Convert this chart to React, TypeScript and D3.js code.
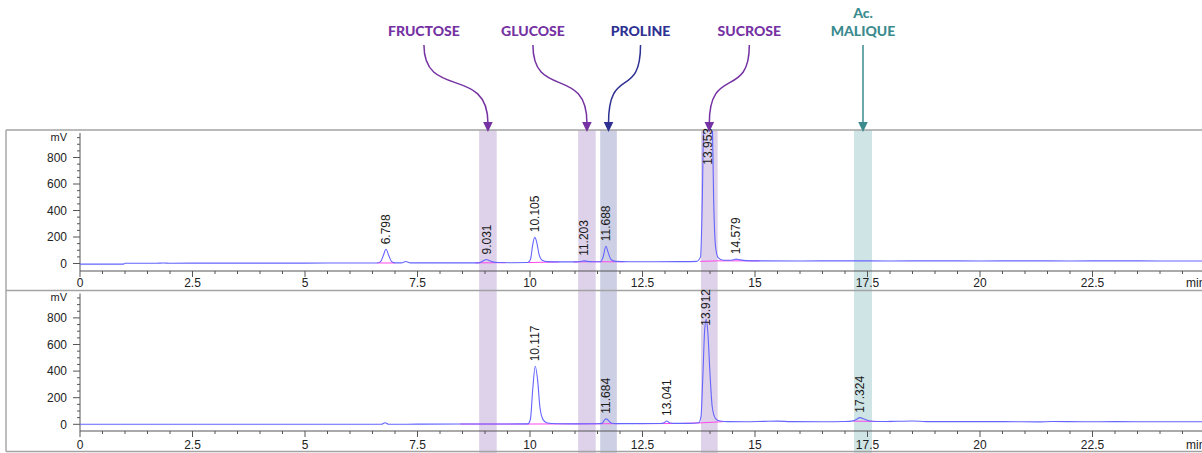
import React from 'react';
import * as d3 from 'd3';

type Pt = [number, number];

const X_TICK_VALUES = [0, 2.5, 5, 7.5, 10, 12.5, 15, 17.5, 20, 22.5];
const X_UNIT = 'min';
const Y_TICK_VALUES = [0, 200, 400, 600, 800];
const Y_UNIT = 'mV';

// Chromatogram 1 (top): [time (min), signal (mV)]
const TRACE_TOP: Pt[] = [
  [0, -5], [0.96, -5], [1.0, 2], [1.7, 2], [1.85, 4], [2.0, 2], [3.0, 3], [4.0, 3], [5.0, 3], [6.0, 4],
  [6.6, 4], [6.68, 14], [6.74, 60], [6.8, 107], [6.86, 62], [6.92, 16], [7.0, 5],
  [7.14, 5], [7.24, 15], [7.34, 5], [8.0, 5],
  [8.85, 5], [8.93, 14], [8.98, 24], [9.03, 30], [9.09, 23], [9.17, 12], [9.3, 7], [9.6, 6],
  [9.95, 7], [10.01, 30], [10.06, 140], [10.105, 198], [10.15, 160], [10.2, 70], [10.27, 25], [10.38, 14], [10.7, 12],
  [11.05, 12], [11.13, 15], [11.2, 20], [11.27, 16], [11.4, 13],
  [11.57, 13], [11.62, 45], [11.688, 130], [11.74, 80], [11.8, 30], [11.9, 16], [12.2, 13], [12.8, 13], [13.3, 14],
  [13.7, 16], [13.79, 50], [13.83, 500], [13.87, 1300], [13.955, 1700], [14.04, 1300], [14.08, 500], [14.12, 140], [14.18, 45],
  [14.3, 24], [14.45, 24], [14.52, 28], [14.58, 33], [14.66, 28], [14.8, 22], [15.1, 20],
  [16, 19], [17, 20], [18, 19], [19, 20], [20, 19], [21, 20], [22, 19], [23, 20], [24, 19], [25, 19],
];

// Chromatogram 2 (bottom)
const TRACE_BOTTOM: Pt[] = [
  [0, 0], [3, 0], [6.0, 0], [6.7, 0], [6.78, 12], [6.86, 0], [7.5, 1], [8.5, 2], [9.5, 2],
  [9.95, 3], [10.01, 40], [10.06, 260], [10.117, 436], [10.17, 330], [10.22, 130], [10.29, 35], [10.38, 10], [10.6, 4],
  [11.0, 3], [11.5, 4], [11.6, 7], [11.65, 30], [11.69, 42], [11.74, 30], [11.8, 10], [11.9, 5], [12.3, 5],
  [12.9, 6], [12.98, 12], [13.04, 25], [13.1, 12], [13.2, 7], [13.5, 7],
  [13.75, 12], [13.8, 60], [13.84, 350], [13.88, 700], [13.915, 790], [13.95, 700], [14.0, 380], [14.05, 130], [14.12, 45], [14.22, 25],
  [14.4, 20], [14.8, 19], [15.2, 22], [15.5, 24], [15.8, 20], [16.5, 19], [17.0, 21],
  [17.18, 26], [17.26, 38], [17.33, 50], [17.42, 40], [17.55, 25], [17.8, 21],
  [18.0, 22], [18.5, 25], [18.8, 20], [19.5, 20], [20.5, 20], [21.3, 18], [21.6, 21], [22.3, 19], [23.0, 20], [24.0, 19], [25, 19],
];

const PEAKS_TOP = ['6.798', '9.031', '10.105', '11.203', '11.688', '13.953', '14.579'];
const PEAKS_BOTTOM = ['10.117', '11.684', '13.041', '13.912', '17.324'];

// integration baselines: [t0, v0, t1, v1]
const INTEG_TOP: [number, number, number, number][] = [
  [6.6, 4, 7.0, 4], [8.78, 5, 9.45, 6], [9.96, 7, 10.65, 12], [10.96, 12, 11.33, 13],
  [11.33, 13, 12.07, 13], [13.78, 16, 14.18, 20], [14.18, 20, 15.1, 20],
];
const INTEG_BOTTOM: [number, number, number, number][] = [
  [8.45, 2, 9.9, 2], [9.9, 2, 10.9, 3], [10.9, 3, 11.55, 4], [11.55, 4, 12.0, 5],
  [12.4, 5, 13.3, 6], [13.3, 6, 13.75, 10], [13.75, 10, 14.3, 20], [17.18, 24, 18.04, 20],
];

const BANDS = [
  { name: 'FRUCTOSE', lines: ['FRUCTOSE'], from: 8.87, to: 9.26 },
  { name: 'GLUCOSE', lines: ['GLUCOSE'], from: 11.07, to: 11.46 },
  { name: 'PROLINE', lines: ['PROLINE'], from: 11.56, to: 11.93 },
  { name: 'SUCROSE', lines: ['SUCROSE'], from: 13.8, to: 14.17 },
  { name: 'MALIQUE', lines: ['Ac.', 'MALIQUE'], from: 17.2, to: 17.6 },
];

const BAND_STYLE: Record<string, { fill: string; ink: string; dx: number }> = {
  FRUCTOSE: { fill: '#ddd2e9', ink: '#7532a3', dx: -64 },
  GLUCOSE: { fill: '#ddd2e9', ink: '#7532a3', dx: -54 },
  PROLINE: { fill: '#cdd0e4', ink: '#2e3192', dx: 32 },
  SUCROSE: { fill: '#ddd2e9', ink: '#7532a3', dx: 40 },
  MALIQUE: { fill: '#cfe4e4', ink: '#3b8b8e', dx: 0 },
};

const TRACE_COLOR = '#6464ff';
const INTEG_COLOR = '#ff44ee';
const FRAME_COLOR = '#a3a3a3';
const AXIS_COLOR = '#555';
const FONT = '"Liberation Sans", Arial, sans-serif';

export default function App() {
  const W = 1202;
  const H = 453;
  const x = d3.scaleLinear().domain([0, 25]).range([80, 1205]);

  const panels = [
    {
      key: 'top', trace: TRACE_TOP, peaks: PEAKS_TOP, integ: INTEG_TOP,
      y: d3.scaleLinear().domain([0, 800]).range([263.5, 157.5]),
      axisY: 271, top: 131, labelY: 283, labelTopLimit: 128,
    },
    {
      key: 'bottom', trace: TRACE_BOTTOM, peaks: PEAKS_BOTTOM, integ: INTEG_BOTTOM,
      y: d3.scaleLinear().domain([0, 800]).range([424.3, 317.9]),
      axisY: 431, top: 291.5, labelY: 445, labelTopLimit: 289,
    },
  ];

  const minorX = d3.range(0, 25.01, 0.5);
  const minorY = d3.range(0, 960, 50);

  return (
    <svg width={W} height={H} style={{ position: 'absolute', left: 0, top: 0, background: '#fff' }}
      xmlns="http://www.w3.org/2000/svg">
      <defs>
        {panels.map((p) => (
          <clipPath id={`clip-${p.key}`} key={p.key}>
            <rect x={80} y={p.top} width={W - 80} height={p.axisY - p.top} />
          </clipPath>
        ))}
      </defs>

      {/* highlight bands */}
      {BANDS.map((b) => (
        <rect key={b.name} x={x(b.from)} y={130} width={x(b.to) - x(b.from)} height={H - 130}
          fill={BAND_STYLE[b.name].fill} />
      ))}

      {/* frame */}
      <line x1={6} y1={130} x2={W} y2={130} stroke={FRAME_COLOR} strokeWidth={1.6} />
      <line x1={6} y1={290.5} x2={W} y2={290.5} stroke={FRAME_COLOR} strokeWidth={1.4} />
      <line x1={6} y1={451.5} x2={W} y2={451.5} stroke={FRAME_COLOR} strokeWidth={1.4} />
      <line x1={6} y1={130} x2={6} y2={451.5} stroke={FRAME_COLOR} strokeWidth={1.4} />

      {panels.map((p) => {
        const line = d3.line<Pt>().x((d) => x(d[0])).y((d) => p.y(d[1])).curve(d3.curveMonotoneX);
        const yTopVal = p.y.invert(p.top + 2);
        return (
          <g key={p.key} fontFamily={FONT}>
            {/* x axis */}
            <line x1={80} y1={p.axisY} x2={W} y2={p.axisY} stroke={AXIS_COLOR} strokeWidth={1} />
            {minorX.map((t) => {
              const major = Math.abs(t / 2.5 - Math.round(t / 2.5)) < 1e-6;
              return (
                <line key={`mx${t}`} x1={x(t)} x2={x(t)} y1={p.axisY} y2={p.axisY + (major ? 6 : 3)}
                  stroke={AXIS_COLOR} strokeWidth={1} />
              );
            })}
            {X_TICK_VALUES.map((t) => (
              <text key={`xl${t}`} x={x(t)} y={p.labelY} dy="0.35em" textAnchor="middle" fontSize={12} fill="#222">
                {d3.format('~g')(t)}
              </text>
            ))}
            <text x={1186} y={p.labelY} dy="0.35em" textAnchor="start" fontSize={12} fill="#222">{X_UNIT}</text>

            {/* y axis */}
            <line x1={80} y1={p.y(yTopVal)} x2={80} y2={p.axisY} stroke={AXIS_COLOR} strokeWidth={1} />
            {minorY.map((v) => {
              const major = v % 200 === 0;
              return (
                <line key={`my${v}`} x1={80 - (major ? 7 : 3)} x2={80} y1={p.y(v)} y2={p.y(v)}
                  stroke={AXIS_COLOR} strokeWidth={1} />
              );
            })}
            {Y_TICK_VALUES.map((v) => (
              <text key={`yl${v}`} x={67} y={p.y(v)} dy="0.35em" textAnchor="end" fontSize={12} fill="#222">{v}</text>
            ))}
            <text x={67} y={p.y(955)} dy="0.35em" textAnchor="end" fontSize={11} fill="#222">{Y_UNIT}</text>

            {/* traces */}
            <g clipPath={`url(#clip-${p.key})`}>
              {p.integ.map((s, i) => (
                <line key={`ig${i}`} x1={x(s[0])} y1={p.y(s[1])} x2={x(s[2])} y2={p.y(s[3])}
                  stroke={INTEG_COLOR} strokeWidth={1} />
              ))}
              <path d={line(p.trace) || ''} fill="none" stroke={TRACE_COLOR} strokeWidth={1.1} />
            </g>

            {/* peak labels */}
            {p.peaks.map((lab) => {
              const rt = parseFloat(lab);
              const near = p.trace.filter((d) => Math.abs(d[0] - rt) < 0.09);
              const apex = d3.max(near, (d) => d[1]) ?? 0;
              const len = lab.length * 6.67 - 3.3;
              let bottom = p.y(apex) - 5;
              if (bottom - len < p.labelTopLimit) bottom = p.labelTopLimit + len;
              return (
                <text key={`pk${lab}`} transform={`translate(${x(rt)},${bottom}) rotate(-90)`}
                  textAnchor="start" dy="0.35em" fontSize={12} fill="#1a1a1a">{lab}</text>
              );
            })}
          </g>
        );
      })}

      {/* annotations */}
      {BANDS.map((b) => {
        const st = BAND_STYLE[b.name];
        const cx = x((b.from + b.to) / 2);
        const lx = cx + st.dx;
        const y0 = 45;
        const y1 = 123;
        const d = `M${lx},${y0} C${lx},${y0 + 55} ${cx},${y1 - 58} ${cx},${y1}`;
        return (
          <g key={`an${b.name}`}>
            {b.lines.map((t, i) => (
              <text key={t} x={lx} y={36 - (b.lines.length - 1 - i) * 18} textAnchor="middle"
                fontFamily="Lato, 'Open Sans', sans-serif" fontWeight={900} fontSize={14} fill={st.ink}>{t}</text>
            ))}
            <path d={d} fill="none" stroke={st.ink} strokeWidth={1.5} />
            <polygon points={`${cx - 4.8},${y1 - 1} ${cx + 4.8},${y1 - 1} ${cx},${y1 + 9}`} fill={st.ink} />
          </g>
        );
      })}
    </svg>
  );
}
